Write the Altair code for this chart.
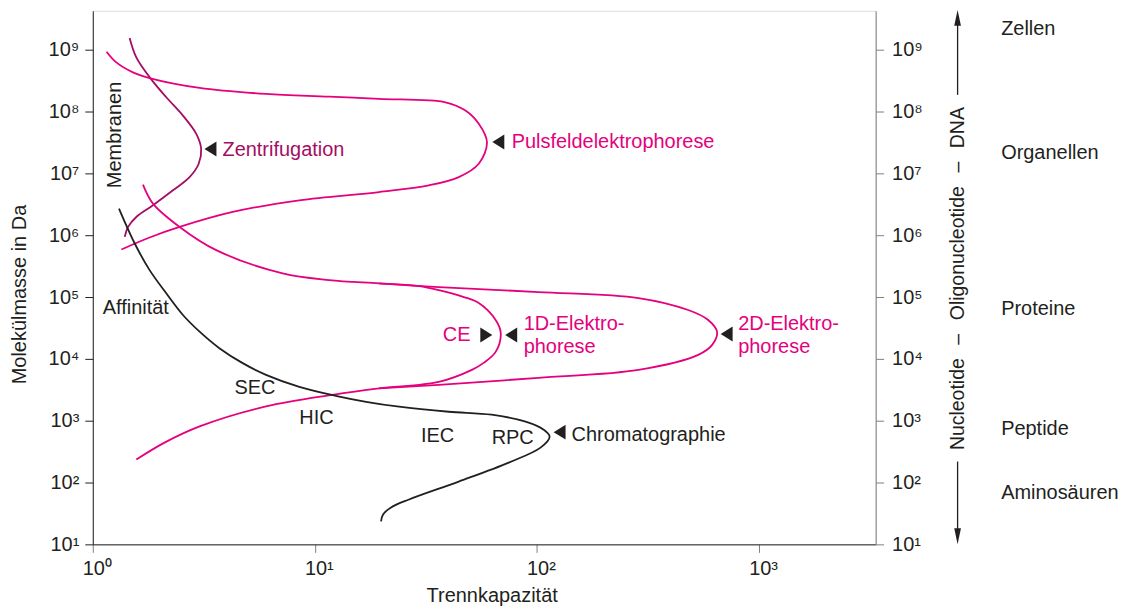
import altair as alt
import pandas as pd

FONT = "Liberation Sans"
PINK = "#e5007d"
MAGENTA = "#a30d63"
BLACK = "#231f20"

# ---- curves as log10(Trennkapazität), log10(Molekülmasse) ----
zent_lx = [0.166, 0.196, 0.260, 0.331, 0.406, 0.466, 0.488, 0.477, 0.436, 0.361, 0.271, 0.196, 0.159, 0.144]
zent_ly = [9.189, 8.876, 8.537, 8.231, 7.935, 7.640, 7.398, 7.156, 6.940, 6.726, 6.484, 6.295, 6.134, 5.973]

puls_lx = [0.062, 0.106, 0.181, 0.260, 0.481, 0.780, 1.064, 1.289, 1.588, 1.678, 1.738, 1.775,
           1.738, 1.648, 1.513, 1.289, 0.930, 0.630, 0.391, 0.256, 0.129]
puls_ly = [8.968, 8.795, 8.634, 8.537, 8.382, 8.285, 8.242, 8.205, 8.150, 8.016, 7.802, 7.505,
           7.156, 6.940, 6.806, 6.698, 6.565, 6.376, 6.134, 5.963, 5.769]

e1d_lx = [0.226, 0.271, 0.391, 0.556, 0.855, 1.064, 1.289, 1.469, 1.558, 1.671, 1.738, 1.814, 1.837,
          1.814, 1.760, 1.707, 1.558, 1.289, 1.079, 0.780, 0.481, 0.323, 0.196]
e1d_ly = [6.818, 6.511, 6.134, 5.758, 5.382, 5.274, 5.221, 5.177, 5.113, 5.000, 4.903, 4.629, 4.419,
          4.113, 3.935, 3.823, 3.629, 3.524, 3.419, 3.231, 2.908, 2.645, 2.371]

e2d_lx = [1.289, 1.558, 2.007, 2.457, 2.681, 2.771, 2.811, 2.789, 2.726, 2.457, 2.007, 1.558, 1.289]
e2d_ly = [5.221, 5.161, 5.081, 4.984, 4.790, 4.629, 4.435, 4.226, 4.065, 3.823, 3.694, 3.581, 3.524]

chrom_lx = [0.118, 0.189, 0.256, 0.331, 0.406, 0.481, 0.570, 0.675, 0.780, 0.930, 1.094, 1.231, 1.379,
            1.603, 1.796, 1.949, 2.030, 2.057, 2.016, 1.873, 1.648, 1.424, 1.343, 1.307, 1.298]
chrom_ly = [6.431, 5.866, 5.435, 5.060, 4.710, 4.440, 4.173, 3.931, 3.742, 3.548, 3.403, 3.306, 3.226,
            3.145, 3.097, 2.984, 2.855, 2.742, 2.565, 2.323, 2.016, 1.726, 1.597, 1.484, 1.371]

curve_names = ["Zentrifugation", "Pulsfeldelektrophorese", "1D-Elektrophorese", "2D-Elektrophorese", "Chromatographie"]
curve_colors = [MAGENTA, PINK, PINK, PINK, BLACK]

# ---- arrow markers next to curves ----
tri_lx = [0.530, 1.826, 1.772, 1.884, 2.854, 2.102]
tri_ly = [7.395, 7.508, 4.387, 4.387, 4.403, 2.815]
tri_dir = ["left", "left", "right", "left", "left", "left"]

# ---- labels inside the plot ----
lab_text = ["Zentrifugation", "Pulsfeldelektrophorese", "CE", "1D-Elektro-", "phorese", "2D-Elektro-", "phorese",
            "Chromatographie", "Affinität", "SEC", "HIC", "IEC", "RPC"]
lab_lx = [0.584, 1.886, 1.576, 1.940, 1.940, 2.906, 2.906, 2.156, 0.045, 0.638, 0.930, 1.478, 1.796]
lab_ly = [7.274, 7.403, 4.290, 4.468, 4.097, 4.468, 4.097, 2.677, 4.726, 3.435, 2.952, 2.661, 2.629]
lab_col = [MAGENTA, PINK, PINK, PINK, PINK, PINK, PINK, BLACK, BLACK, BLACK, BLACK, BLACK, BLACK]

memb_text = ["Membranen"]
memb_lx = [0.126]
memb_ly = [7.621]

# ---- labels right of the plot ----
right_text = ["Zellen", "Organellen", "Proteine", "Peptide", "Aminosäuren"]
right_lx = [4.090, 4.090, 4.090, 4.090, 4.090]
right_ly = [9.242, 7.226, 4.710, 2.774, 1.726]

vert_text = ["Nucleotide\u2002\u2009\u2013\u2009\u2002Oligonucleotide\u2002\u2009\u2013\u2009\u2002DNA"]
vert_lx = [3.894]
vert_ly = [5.298]

arrow_lx = [3.894, 3.894]
arrow_ly1 = [8.27, 2.34]
arrow_ly2 = [9.42, 1.24]
head_ly = [9.515, 1.13]
head_dir = ["up", "down"]

x_ticks = [1, 10, 100, 1000]
y_ticks = [10, 100, 1000, 1e4, 1e5, 1e6, 1e7, 1e8, 1e9]

# ---- data frames ----
rows = []
for name, lx, ly in zip(curve_names, [zent_lx, puls_lx, e1d_lx, e2d_lx, chrom_lx],
                        [zent_ly, puls_ly, e1d_ly, e2d_ly, chrom_ly]):
    for i, (a, b) in enumerate(zip(lx, ly)):
        rows.append({"x": 10 ** a, "y": 10 ** b, "curve": name, "ord": i})
curves_df = pd.DataFrame(rows)

SHAPES = {
    "left": "M-0.8,0L0.8,-1L0.8,1Z",
    "right": "M0.8,0L-0.8,-1L-0.8,1Z",
    "up": "M0,-1L0.42,1L-0.42,1Z",
    "down": "M0,1L0.42,-1L-0.42,-1Z",
}
tri_df = pd.DataFrame({"x": [10 ** v for v in tri_lx], "y": [10 ** v for v in tri_ly],
                       "shape": [SHAPES[d] for d in tri_dir]})
lab_df = pd.DataFrame({"x": [10 ** v for v in lab_lx], "y": [10 ** v for v in lab_ly],
                       "text": lab_text, "color": lab_col})
memb_df = pd.DataFrame({"x": [10 ** v for v in memb_lx], "y": [10 ** v for v in memb_ly], "text": memb_text})
right_df = pd.DataFrame({"x": [10 ** v for v in right_lx], "y": [10 ** v for v in right_ly], "text": right_text})
vert_df = pd.DataFrame({"x": [10 ** v for v in vert_lx], "y": [10 ** v for v in vert_ly], "text": vert_text})
arrow_df = pd.DataFrame({"x": [10 ** v for v in arrow_lx], "y": [10 ** v for v in arrow_ly1],
                         "y2": [10 ** v for v in arrow_ly2]})
head_df = pd.DataFrame({"x": [10 ** v for v in arrow_lx], "y": [10 ** v for v in head_ly],
                        "shape": [SHAPES[d] for d in head_dir]})

# ---- scales and axes ----
X_SCALE = alt.Scale(type="log", domain=[1, 3350], nice=False)
Y_SCALE = alt.Scale(type="log", domain=[10, 4.26e9], nice=False)
SUP = "'10' + ['\u2070','\u00b9','\u00b2','\u00b3','\u2074','\u2075','\u2076','\u2077','\u2078','\u2079'][round(log(datum.value)/LN10)]"

X_AXIS = alt.Axis(values=x_ticks, labelExpr=SUP, title="Trennkapazität", grid=False, labelFlush=False,
                  tickSize=8, tickColor="#808080", domainColor=BLACK, labelPadding=6, labelOffset=4,
                  labelFont=FONT, labelFontSize=20, labelColor=BLACK,
                  titleFont=FONT, titleFontSize=20, titleFontWeight="normal", titleColor=BLACK,
                  titleX=400, titleY=51, titleBaseline="middle", titleAlign="center")
Y_AXIS_L = alt.Axis(values=y_ticks, labelExpr=SUP, title="Molekülmasse in Da", grid=False,
                    tickSize=8, tickColor=BLACK, domainColor=BLACK, labelPadding=6,
                    labelFont=FONT, labelFontSize=20, labelColor=BLACK,
                    titleFont=FONT, titleFontSize=20, titleFontWeight="normal", titleColor=BLACK,
                    titleAngle=270, titleX=-73, titleY=284, titleBaseline="middle", titleAlign="center")
Y_AXIS_R = alt.Axis(values=y_ticks, labelExpr=SUP, title=None, grid=False, orient="right",
                    tickSize=8, tickColor="#808080", domainColor="#808080", labelPadding=8,
                    labelFont=FONT, labelFontSize=20, labelColor=BLACK)


def X(field="x"):
    return alt.X(f"{field}:Q", scale=X_SCALE, axis=X_AXIS)


def Y(field="y", axis=None):
    return alt.Y(f"{field}:Q", scale=Y_SCALE, axis=axis)


curves = alt.Chart(curves_df).mark_line(interpolate="catmull-rom", strokeWidth=1.8).encode(
    x=X(), y=Y(axis=Y_AXIS_L),
    color=alt.Color("curve:N", scale=alt.Scale(domain=curve_names, range=curve_colors), legend=None),
    detail="curve:N", order="ord:Q")

tris = alt.Chart(tri_df).mark_point(filled=True, opacity=1, size=225, color=BLACK, strokeWidth=0).encode(
    x=X(), y=Y(), shape=alt.Shape("shape:N", scale=None))

labels = alt.Chart(lab_df).mark_text(align="left", baseline="alphabetic", font=FONT, fontSize=20).encode(
    x=X(), y=Y(), text="text:N", color=alt.Color("color:N", scale=None))

memb = alt.Chart(memb_df).mark_text(align="center", baseline="alphabetic", font=FONT, fontSize=20,
                                    angle=270, color=BLACK).encode(x=X(), y=Y(), text="text:N")

right = alt.Chart(right_df).mark_text(align="left", baseline="alphabetic", font=FONT, fontSize=20,
                                      color=BLACK).encode(x=X(), y=Y(), text="text:N")

vert = alt.Chart(vert_df).mark_text(align="center", baseline="middle", font=FONT, fontSize=19.5,
                                    angle=270, color=BLACK).encode(x=X(), y=Y(), text="text:N")

arrows = alt.Chart(arrow_df).mark_rule(color=BLACK, strokeWidth=1.3).encode(
    x=X(), y=Y(axis=Y_AXIS_R), y2="y2:Q")

heads = alt.Chart(head_df).mark_point(filled=True, opacity=1, size=256, color=BLACK, strokeWidth=0).encode(
    x=X(), y=Y(), shape=alt.Shape("shape:N", scale=None))

chart = alt.layer(curves, tris, labels, memb, right, vert, arrows, heads).resolve_axis(
    y="independent").properties(
    width=785, height=535,
    autosize=alt.AutoSizeParams(type="none"),
    padding={"left": 85, "top": 2, "right": 243, "bottom": 62},
).configure_view(stroke="#555555", strokeWidth=1).configure(background="white")

chart.save("out.html", embed_options={"renderer": "svg", "actions": False})
